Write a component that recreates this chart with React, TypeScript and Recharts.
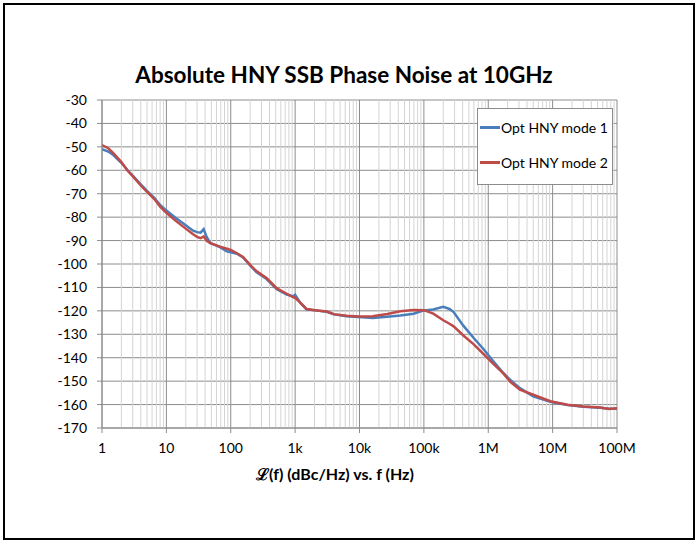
import { LineChart, Line, XAxis, YAxis, CartesianGrid, ReferenceLine } from 'recharts';

const freqs = [1, 1.25, 1.5, 2, 2.5, 3, 4, 5, 6.5, 8, 10, 14, 20, 26, 30, 34, 38, 42, 48, 68, 87, 100, 125, 155, 200, 250, 360, 520, 740, 940, 1000, 1200, 1500, 2200, 3100, 4000, 6300, 9600, 16000, 27000, 43000, 69000, 100000, 140000, 200000, 250000, 290000, 410000, 590000, 840000, 1200000, 1700000, 2200000, 3100000, 5000000, 9200000, 17000000, 30000000, 55000000, 75000000, 100000000];

const mode1 = [-51, -52, -53.5, -56.8, -60, -62.3, -66, -68.8, -71.8, -74.8, -77.2, -80.4, -83.5, -85.8, -86.4, -86.6, -85.1, -88.3, -91, -92.8, -94.6, -95, -95.6, -97.2, -100.6, -103.4, -106.4, -110.8, -113, -113.8, -113.2, -116.5, -119.3, -119.9, -120.4, -121.5, -122.3, -122.6, -123, -122.5, -122, -121.2, -119.8, -119.4, -118.3, -119.2, -120.5, -126.3, -131.5, -136.3, -141.5, -146.4, -149.5, -153, -156.5, -158.8, -160.2, -160.9, -161.4, -161.8, -161.8];

const mode2 = [-49.2, -50.6, -52.7, -56.5, -60.2, -62.5, -66.5, -69.2, -72.3, -75.5, -78.2, -81.6, -84.9, -87.3, -88.4, -89, -88.2, -90, -91.1, -92.6, -93.5, -94, -95.4, -97, -100.4, -103, -106, -110.4, -112.7, -114.2, -114.4, -116.5, -119.2, -119.8, -120.3, -121.4, -122.1, -122.4, -122.3, -121.3, -120.2, -119.6, -119.7, -121.2, -124, -125.5, -126.6, -130.5, -134.2, -138.4, -142.6, -146.6, -150.3, -153.6, -155.8, -158.6, -160.1, -160.8, -161.3, -161.9, -161.6];

const xTicks = [1, 10, 100, 1000, 10000, 100000, 1000000, 10000000, 100000000];
const xTickLabels = ['1', '10', '100', '1k', '10k', '100k', '1M', '10M', '100M'];
const yTicks = [-170, -160, -150, -140, -130, -120, -110, -100, -90, -80, -70, -60, -50, -40, -30];
const minorMultipliers = [2, 3, 4, 5, 6, 7, 8, 9];

const seriesNames = ['Opt HNY mode 1', 'Opt HNY mode 2'];
const seriesColors = ['#4a7ebb', '#be4b48'];

const data = freqs.map((f, i) => ({ f, mode1: mode1[i], mode2: mode2[i] }));
const minorTicks = xTicks.slice(0, -1).flatMap((d) => minorMultipliers.map((m) => d * m));

const font = 'Lato, "Open Sans", sans-serif';

function LegendBox() {
  return (
    <div style={{ position: 'absolute', left: 477, top: 108, width: 134, height: 75, border: '1px solid #8c8c8c', background: '#fff', fontFamily: font, fontSize: 14, color: '#000' }}>
      {seriesNames.map((name, i) => (
        <div key={name} style={{ display: 'flex', alignItems: 'center', height: 35, marginTop: i === 0 ? 1 : 0, whiteSpace: 'nowrap' }}>
          <div style={{ width: 20, height: 3, background: seriesColors[i], marginLeft: 2, marginRight: 1 }} />
          <span>{name}</span>
        </div>
      ))}
    </div>
  );
}

export default function App() {
  return (
    <div style={{ position: 'absolute', left: 0, top: 0, width: 699, height: 544, background: '#fff' }}>
      <div style={{ position: 'absolute', left: 3, top: 3, width: 688, height: 533, border: '2px solid #000' }} />
      <div style={{ position: 'absolute', left: 0, top: 61, width: 688, textAlign: 'center', fontFamily: font, fontWeight: 700, fontSize: 22.5, color: '#000' }}>
        Absolute HNY SSB Phase Noise at 10GHz
      </div>
      <div style={{ position: 'absolute', left: 0, top: 463, width: 670, textAlign: 'center', fontFamily: font, fontWeight: 700, fontSize: 16, color: '#000' }}>
        ℒ(f) (dBc/Hz) vs. f (Hz)
      </div>
      <div style={{ position: 'absolute', left: 0, top: 0 }}>
        <LineChart width={699} height={544} data={data} margin={{ top: 100, right: 82, left: 42, bottom: 86 }}>
          <CartesianGrid stroke="#8c8c8c" strokeWidth={1} vertical={false} />
          {minorTicks.map((v) => (
            <ReferenceLine key={v} x={v} stroke="#d4d4d4" strokeWidth={1} />
          ))}
          {xTicks.map((v) => (
            <ReferenceLine key={'M' + v} x={v} stroke="#8c8c8c" strokeWidth={1} />
          ))}
          <XAxis
            dataKey="f"
            type="number"
            scale="log"
            domain={[1, 100000000]}
            ticks={xTicks}
            tickFormatter={(v: number) => xTickLabels[xTicks.indexOf(v)]}
            stroke="#8c8c8c"
            tickSize={5}
            tickMargin={10}
            height={30}
            tick={{ fill: '#000', fontSize: 14, fontFamily: font }}
            allowDataOverflow
          />
          <YAxis
            type="number"
            domain={[-170, -30]}
            ticks={yTicks}
            stroke="#8c8c8c"
            tickSize={5}
            tickMargin={10}
            width={60}
            tick={{ fill: '#000', fontSize: 14, fontFamily: font }}
            interval={0}
          />
          <Line dataKey="mode1" stroke={seriesColors[0]} strokeWidth={2.5} dot={false} isAnimationActive={false} name={seriesNames[0]} />
          <Line dataKey="mode2" stroke={seriesColors[1]} strokeWidth={2.5} dot={false} isAnimationActive={false} name={seriesNames[1]} />
        </LineChart>
      </div>
      <LegendBox />
    </div>
  );
}
